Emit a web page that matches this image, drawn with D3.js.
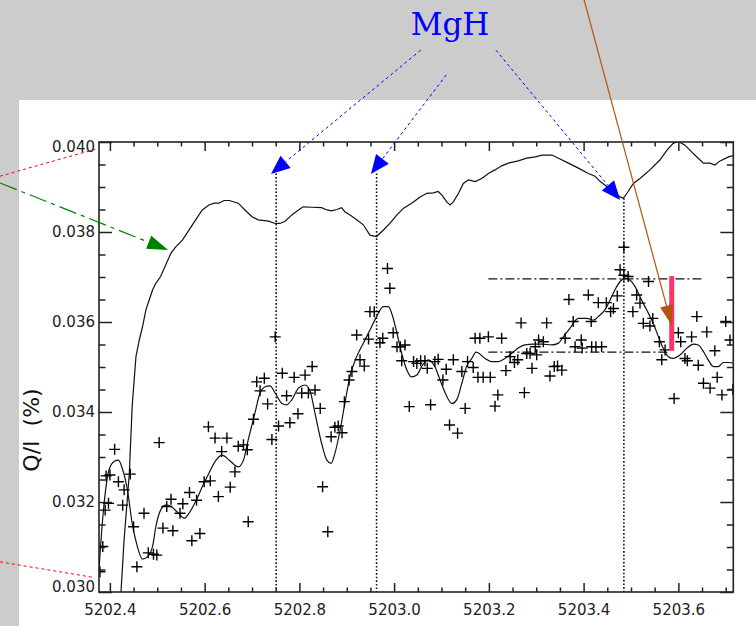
<!DOCTYPE html>
<html>
<head>
<meta charset="utf-8">
<script src="https://cdn.jsdelivr.net/npm/d3@7"></script>
<style>
  body { margin: 0; background: #cccccc; }
</style>
</head>
<body>
<div id="chart"></div>
<script>
// wavelength (A) vs Q/I (%)
const profile = [[5202.420,0.0292],[5202.423,0.02993],[5202.430,0.03116],[5202.441,0.03264],[5202.447,0.03412],[5202.455,0.03523],[5202.462,0.0356],[5202.469,0.0359],[5202.476,0.03627],[5202.483,0.03649],[5202.490,0.03671],[5202.497,0.03686],[5202.507,0.03701],[5202.518,0.03727],[5202.529,0.03753],[5202.539,0.03767],[5202.553,0.03782],[5202.567,0.03804],[5202.581,0.03827],[5202.595,0.03849],[5202.609,0.0386],[5202.620,0.03864],[5202.630,0.03864],[5202.641,0.0387],[5202.652,0.0387],[5202.671,0.03864],[5202.685,0.03849],[5202.700,0.03834],[5202.713,0.03827],[5202.735,0.03824],[5202.749,0.03819],[5202.759,0.03819],[5202.770,0.03824],[5202.784,0.03838],[5202.798,0.03849],[5202.808,0.03856],[5202.826,0.03855],[5202.847,0.03854],[5202.858,0.03849],[5202.868,0.03847],[5202.879,0.0385],[5202.889,0.03854],[5202.896,0.03845],[5202.907,0.03838],[5202.921,0.03827],[5202.935,0.03816],[5202.949,0.03793],[5202.963,0.0379],[5202.977,0.03804],[5202.991,0.03819],[5203.006,0.03838],[5203.020,0.03853],[5203.037,0.03864],[5203.055,0.03878],[5203.069,0.03886],[5203.083,0.03887],[5203.093,0.0389],[5203.101,0.03882],[5203.111,0.03867],[5203.118,0.0386],[5203.125,0.03867],[5203.136,0.03886],[5203.146,0.03908],[5203.157,0.03916],[5203.171,0.03912],[5203.185,0.03919],[5203.199,0.0393],[5203.213,0.03938],[5203.227,0.03947],[5203.241,0.03953],[5203.262,0.03958],[5203.280,0.03964],[5203.298,0.03967],[5203.312,0.03971],[5203.333,0.03971],[5203.347,0.03964],[5203.368,0.03953],[5203.389,0.03942],[5203.410,0.0393],[5203.424,0.03924],[5203.435,0.03912],[5203.449,0.03901],[5203.463,0.0389],[5203.477,0.03878],[5203.484,0.03875],[5203.494,0.0389],[5203.505,0.03908],[5203.519,0.03919],[5203.540,0.03938],[5203.561,0.0396],[5203.576,0.03982],[5203.589,0.03997],[5203.600,0.04001],[5203.614,0.03993],[5203.628,0.03978],[5203.642,0.03964],[5203.653,0.03953],[5203.667,0.03953],[5203.677,0.03949],[5203.688,0.03958],[5203.706,0.03967],[5203.720,0.03971]];

const fitCurve = [[5202.377,0.03049],[5202.384,0.03153],[5202.391,0.03227],[5202.398,0.03271],[5202.409,0.0329],[5202.418,0.03293],[5202.426,0.03275],[5202.437,0.03227],[5202.447,0.03153],[5202.458,0.03101],[5202.469,0.03073],[5202.479,0.03078],[5202.490,0.03101],[5202.497,0.03145],[5202.507,0.03182],[5202.518,0.03193],[5202.529,0.0319],[5202.542,0.03178],[5202.557,0.03164],[5202.567,0.03175],[5202.581,0.03201],[5202.595,0.03234],[5202.609,0.03264],[5202.624,0.03293],[5202.637,0.03304],[5202.652,0.03293],[5202.671,0.03278],[5202.682,0.03293],[5202.692,0.03338],[5202.706,0.03397],[5202.717,0.03442],[5202.728,0.03456],[5202.738,0.03458],[5202.749,0.03442],[5202.763,0.03419],[5202.773,0.03416],[5202.784,0.03427],[5202.798,0.03453],[5202.812,0.0346],[5202.823,0.03445],[5202.833,0.03397],[5202.847,0.0333],[5202.858,0.03293],[5202.867,0.03286],[5202.875,0.03308],[5202.886,0.0336],[5202.896,0.03419],[5202.907,0.0348],[5202.921,0.03523],[5202.935,0.03553],[5202.949,0.03582],[5202.963,0.03612],[5202.977,0.03634],[5202.988,0.03634],[5202.995,0.03619],[5203.006,0.03575],[5203.016,0.0353],[5203.027,0.03493],[5203.037,0.03478],[5203.048,0.03482],[5203.058,0.03501],[5203.072,0.03516],[5203.086,0.03501],[5203.097,0.03471],[5203.108,0.03442],[5203.122,0.03419],[5203.132,0.03427],[5203.143,0.03464],[5203.153,0.03501],[5203.164,0.03519],[5203.173,0.03533],[5203.192,0.03519],[5203.206,0.03512],[5203.220,0.03512],[5203.234,0.03519],[5203.248,0.0353],[5203.262,0.03542],[5203.276,0.03549],[5203.294,0.03551],[5203.312,0.03551],[5203.333,0.03549],[5203.347,0.03553],[5203.357,0.03567],[5203.371,0.03586],[5203.389,0.03608],[5203.407,0.03608],[5203.421,0.03604],[5203.431,0.03612],[5203.445,0.03627],[5203.456,0.03649],[5203.466,0.03671],[5203.477,0.0369],[5203.487,0.03697],[5203.498,0.03693],[5203.509,0.03678],[5203.519,0.03656],[5203.533,0.03627],[5203.547,0.03597],[5203.558,0.03567],[5203.568,0.03542],[5203.579,0.03523],[5203.589,0.03519],[5203.604,0.03527],[5203.618,0.03542],[5203.632,0.03551],[5203.642,0.03549],[5203.653,0.03534],[5203.663,0.03516],[5203.674,0.03501],[5203.684,0.03501],[5203.695,0.0351],[5203.706,0.0351],[5203.720,0.03508]];

const observed = [[5202.379,0.03045],[5202.385,0.03101],[5202.390,0.03182],[5202.397,0.03197],[5202.392,0.03258],[5202.400,0.0326],[5202.410,0.03317],[5202.418,0.03245],[5202.430,0.03227],[5202.427,0.03193],[5202.443,0.03262],[5202.450,0.03145],[5202.457,0.03056],[5202.472,0.03175],[5202.481,0.03087],[5202.492,0.03084],[5202.499,0.03082],[5202.504,0.03332],[5202.512,0.03142],[5202.520,0.0319],[5202.529,0.03206],[5202.533,0.03136],[5202.548,0.03175],[5202.554,0.03196],[5202.568,0.03221],[5202.573,0.03114],[5202.583,0.03204],[5202.590,0.0313],[5202.599,0.03245],[5202.612,0.03247],[5202.608,0.03367],[5202.622,0.03342],[5202.629,0.03212],[5202.636,0.03312],[5202.647,0.03342],[5202.654,0.03233],[5202.664,0.03267],[5202.671,0.03324],[5202.682,0.03327],[5202.690,0.03316],[5202.692,0.03156],[5202.703,0.03384],[5202.710,0.03467],[5202.717,0.03447],[5202.726,0.03475],[5202.733,0.03418],[5202.742,0.03339],[5202.749,0.03567],[5202.756,0.03369],[5202.764,0.03486],[5202.773,0.03436],[5202.780,0.03376],[5202.789,0.03477],[5202.797,0.03396],[5202.805,0.03442],[5202.812,0.03482],[5202.827,0.03501],[5202.819,0.03442],[5202.833,0.03449],[5202.844,0.03408],[5202.867,0.03345],[5202.875,0.03366],[5202.882,0.03369],[5202.890,0.03354],[5202.849,0.03234],[5202.860,0.03134],[5202.895,0.03423],[5202.905,0.03471],[5202.911,0.0349],[5202.921,0.03571],[5202.928,0.03516],[5202.937,0.03502],[5202.946,0.03562],[5202.949,0.03623],[5202.958,0.03623],[5202.970,0.03554],[5202.976,0.03564],[5202.986,0.03719],[5202.991,0.03675],[5202.998,0.03576],[5203.006,0.03545],[5203.013,0.03545],[5203.023,0.03549],[5203.016,0.03514],[5203.032,0.03412],[5203.041,0.03512],[5203.048,0.03508],[5203.056,0.03514],[5203.065,0.03514],[5203.070,0.03497],[5203.077,0.03416],[5203.086,0.03512],[5203.093,0.03517],[5203.103,0.03471],[5203.110,0.03495],[5203.117,0.03371],[5203.125,0.03516],[5203.134,0.03353],[5203.143,0.0349],[5203.150,0.03408],[5203.155,0.03512],[5203.167,0.03499],[5203.171,0.03564],[5203.181,0.03564],[5203.199,0.03567],[5203.227,0.03564],[5203.177,0.03477],[5203.188,0.03477],[5203.203,0.03477],[5203.219,0.03438],[5203.213,0.03413],[5203.236,0.03492],[5203.245,0.03523],[5203.254,0.0351],[5203.261,0.03516],[5203.275,0.03443],[5203.280,0.0353],[5203.287,0.0353],[5203.291,0.03497],[5203.298,0.03545],[5203.301,0.03527],[5203.305,0.0356],[5203.315,0.03556],[5203.268,0.03598],[5203.322,0.03598],[5203.329,0.0348],[5203.338,0.03501],[5203.345,0.03502],[5203.354,0.03493],[5203.369,0.0365],[5203.378,0.03601],[5203.361,0.03564],[5203.382,0.03545],[5203.395,0.0356],[5203.397,0.03542],[5203.410,0.0366],[5203.416,0.03601],[5203.431,0.03643],[5203.417,0.03545],[5203.426,0.03545],[5203.438,0.03545],[5203.448,0.03643],[5203.457,0.03623],[5203.463,0.0363],[5203.471,0.03658],[5203.477,0.03716],[5203.485,0.03766],[5203.485,0.03704],[5203.494,0.03701],[5203.512,0.0366],[5203.519,0.03642],[5203.504,0.03623],[5203.537,0.0369],[5203.526,0.03597],[5203.546,0.03608],[5203.540,0.03591],[5203.560,0.03556],[5203.565,0.03516],[5203.572,0.03538],[5203.591,0.0343],[5203.600,0.03576],[5203.605,0.03556],[5203.614,0.03519],[5203.619,0.03514],[5203.628,0.03567],[5203.639,0.03612],[5203.642,0.03504],[5203.660,0.03578],[5203.677,0.03536],[5203.653,0.03464],[5203.667,0.03453],[5203.682,0.03477],[5203.692,0.03438],[5203.700,0.03601],[5203.709,0.0356],[5203.715,0.0345]];

const xTicks = [5202.4, 5202.6, 5202.8, 5203.0, 5203.2, 5203.4, 5203.6];
const xTickLabels = ["5202.4", "5202.6", "5202.8", "5203.0", "5203.2", "5203.4", "5203.6"];
const yTicks = [0.030, 0.032, 0.034, 0.036, 0.038, 0.040];
const yTickLabels = ["0.030", "0.032", "0.034", "0.036", "0.038", "0.040"];

// annotations (data units)
const mghLabel = {text: "MgH", wave: 5203.118, q: 0.04238};
const mghArrows = [
  {from: [5203.056, 0.04204], to: [5202.740, 0.03929]},
  {from: [5203.110, 0.04149], to: [5202.951, 0.03929]},
  {from: [5203.215, 0.04204], to: [5203.477, 0.03871]}
];
const lineWaves = [5202.751, 5202.963, 5203.485];
const lineTops = [0.0393, 0.0393, 0.03875];
const levelHigh = {q: 0.03696, from: 5203.199, to: 5203.649};
const levelLow = {q: 0.03533, from: 5203.199, to: 5203.578};
const pinkBar = {wave: 5203.586, lo: 0.03536, hi: 0.03702};
const greenArrow = {from: [5202.168, 0.03909], to: [5202.523, 0.0376]};
const brownArrow = {from: [5203.401, 0.04316], to: [5203.586, 0.03593]};
const redLines = [
  [[5202.168, 0.03924], [5202.369, 0.03984]],
  [[5202.168, 0.03067], [5202.362, 0.03033]]
];

const W = 756, H = 626;
const margin = {top: 142, left: 99},
    width = 634.3,
    height = 450;

const svg = d3.select("#chart")
  .append("svg")
    .attr("width", W)
    .attr("height", H)
    .style("display", "block");

svg.append("rect").attr("width", W).attr("height", H).attr("fill", "#cccccc");
svg.append("rect").attr("x", 19).attr("y", 100).attr("width", W - 19).attr("height", H - 100).attr("fill", "#ffffff");

const g = svg.append("g")
  .attr("transform", `translate(${margin.left},${margin.top})`);

const x = d3.scaleLinear().domain([5202.377, 5203.716]).range([0, width]);
const y = d3.scaleLinear().domain([0.030, 0.040]).range([height, 0]);

g.append("clipPath").attr("id", "plotclip")
  .append("rect").attr("width", width).attr("height", height);

const plot = g.append("g").attr("clip-path", "url(#plotclip)");

// vertical dotted lines
lineWaves.forEach((w, i) => {
  plot.append("line")
    .attr("x1", x(w)).attr("x2", x(w))
    .attr("y1", y(lineTops[i])).attr("y2", height)
    .attr("stroke", "#111").attr("stroke-width", 1.6)
    .attr("stroke-dasharray", "1.6,2");
});

// dash-dot levels
[levelHigh, levelLow].forEach(l => {
  plot.append("line")
    .attr("x1", x(l.from)).attr("x2", x(l.to))
    .attr("y1", y(l.q)).attr("y2", y(l.q))
    .attr("stroke", "#111").attr("stroke-width", 1.3)
    .attr("stroke-dasharray", "9,3,2,3");
});

const line = d3.line().x(d => x(d[0])).y(d => y(d[1]));

plot.append("path")
  .datum(profile)
  .attr("d", line)
  .attr("fill", "none")
  .attr("stroke", "#111")
  .attr("stroke-width", 1.2);

plot.append("path")
  .datum(fitCurve)
  .attr("d", line.curve(d3.curveMonotoneX))
  .attr("fill", "none")
  .attr("stroke", "#111")
  .attr("stroke-width", 1.2);

plot.selectAll(".obs")
  .data(observed)
  .join("path")
    .attr("class", "obs")
    .attr("d", d => `M${x(d[0]) - 5.5},${y(d[1])}h11M${x(d[0])},${y(d[1]) - 5.5}v11`)
    .attr("stroke", "#000")
    .attr("stroke-width", 1.4)
    .attr("fill", "none");

// pink bar
g.append("line")
  .attr("x1", x(pinkBar.wave)).attr("x2", x(pinkBar.wave))
  .attr("y1", y(pinkBar.lo)).attr("y2", y(pinkBar.hi))
  .attr("stroke", "#ff3366").attr("stroke-width", 5);

// axes
const xMinor = d3.range(5202.40, 5203.72, 0.05).filter(v => Math.abs((v - 5202.4) / 0.2 - Math.round((v - 5202.4) / 0.2)) > 0.01);
const yMinor = d3.range(0.0300, 0.04001, 0.0005).filter(v => Math.abs(v / 0.002 - Math.round(v / 0.002)) > 0.01);

function styleAxis(sel) {
  sel.select(".domain").remove();
  sel.selectAll("line").attr("stroke", "#222").attr("stroke-width", 1.5);
  sel.selectAll("text")
    .attr("fill", "#222")
    .style("font-family", "DejaVu Sans, sans-serif")
    .style("font-size", "15px");
}

g.append("g").attr("transform", `translate(0,${height})`)
  .call(d3.axisBottom(x).tickValues(xTicks).tickSize(-9).tickPadding(12)
    .tickFormat((d, i) => xTickLabels[i]))
  .call(styleAxis);
g.append("g").attr("transform", `translate(0,${height})`)
  .call(d3.axisBottom(x).tickValues(xMinor).tickSize(-4.5).tickFormat(""))
  .call(styleAxis);
g.append("g")
  .call(d3.axisTop(x).tickValues(xTicks).tickSize(-9).tickFormat(""))
  .call(styleAxis);
g.append("g")
  .call(d3.axisTop(x).tickValues(xMinor).tickSize(-4.5).tickFormat(""))
  .call(styleAxis);

const yAxis = g.append("g")
  .call(d3.axisLeft(y).tickValues(yTicks).tickSize(-13).tickPadding(4)
    .tickFormat((d, i) => yTickLabels[i]))
  .call(styleAxis);
yAxis.selectAll(".tick text")
  .attr("dy", (d, i) => i === 0 ? "-0.05em" : (i === yTicks.length - 1 ? "0.65em" : "0.32em"));
g.append("g")
  .call(d3.axisLeft(y).tickValues(yMinor).tickSize(-6.5).tickFormat(""))
  .call(styleAxis);
g.append("g").attr("transform", `translate(${width},0)`)
  .call(d3.axisRight(y).tickValues(yTicks).tickSize(-13).tickFormat(""))
  .call(styleAxis);
g.append("g").attr("transform", `translate(${width},0)`)
  .call(d3.axisRight(y).tickValues(yMinor).tickSize(-6.5).tickFormat(""))
  .call(styleAxis);

g.append("rect")
  .attr("width", width).attr("height", height)
  .attr("fill", "none").attr("stroke", "#222").attr("stroke-width", 1.6);

// y title
svg.append("text")
  .attr("transform", `translate(39,${margin.top + height * 0.64}) rotate(-90)`)
  .attr("text-anchor", "middle")
  .style("font-family", "DejaVu Sans, sans-serif")
  .style("font-size", "22px")
  .attr("fill", "#111")
  .attr("xml:space", "preserve")
  .text("Q/I  (%)");

// annotations
function arrow(a, color, dash, width_, len, half) {
  const x0 = margin.left + x(a.from[0]), y0 = margin.top + y(a.from[1]);
  const x1 = margin.left + x(a.to[0]), y1 = margin.top + y(a.to[1]);
  const dx = x1 - x0, dy = y1 - y0, L = Math.hypot(dx, dy);
  const ux = dx / L, uy = dy / L;
  const bx = x1 - ux * len, by = y1 - uy * len;
  svg.append("line")
    .attr("x1", x0).attr("y1", y0).attr("x2", bx).attr("y2", by)
    .attr("stroke", color).attr("stroke-width", width_)
    .attr("stroke-dasharray", dash);
  svg.append("path")
    .attr("d", `M${x1},${y1}L${bx - uy * half},${by + ux * half}L${bx + uy * half},${by - ux * half}Z`)
    .attr("fill", color);
}

mghArrows.forEach(a => arrow(a, "#0000ff", "3,3", 1, 19, 8));
arrow(greenArrow, "#008000", "18,5,4,5", 1.2, 21, 7);
arrow(brownArrow, "#b4540e", null, 1.2, 20, 6.5);

redLines.forEach(r => {
  svg.append("line")
    .attr("x1", margin.left + x(r[0][0])).attr("y1", margin.top + y(r[0][1]))
    .attr("x2", margin.left + x(r[1][0])).attr("y2", margin.top + y(r[1][1]))
    .attr("stroke", "#ff0000").attr("stroke-width", 1)
    .attr("stroke-dasharray", "3,3");
});

svg.append("text")
  .attr("x", margin.left + x(mghLabel.wave))
  .attr("y", margin.top + y(mghLabel.q))
  .attr("text-anchor", "middle")
  .style("font-family", "DejaVu Serif, serif")
  .style("font-size", "31px")
  .attr("fill", "#0000ff")
  .text(mghLabel.text);
</script>
</body>
</html>
